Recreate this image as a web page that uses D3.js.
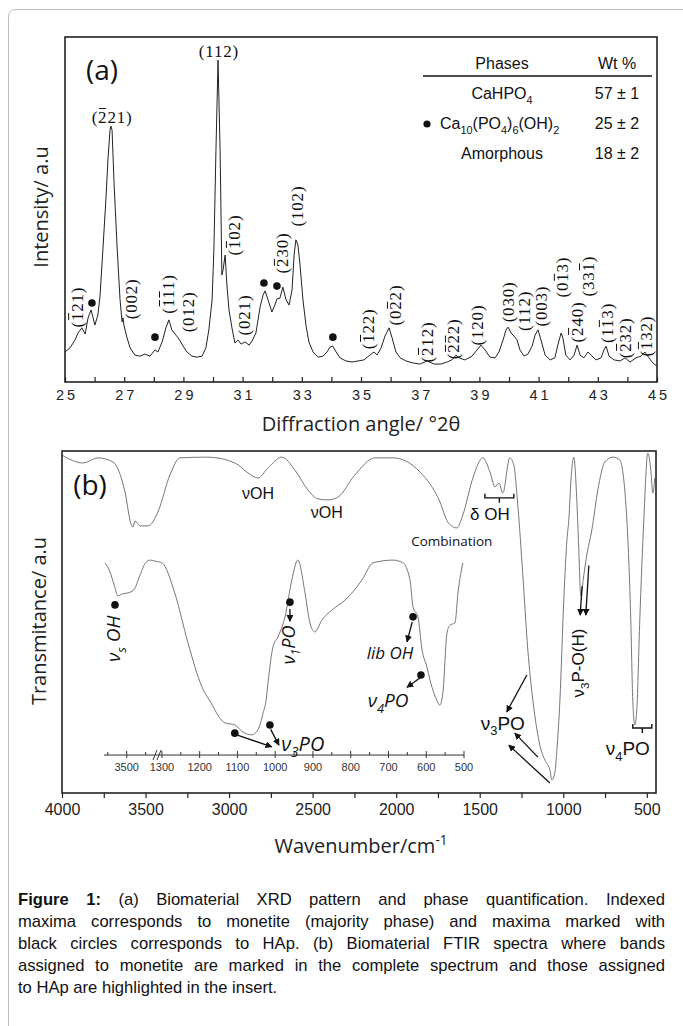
<!DOCTYPE html>
<html>
<head>
<meta charset="utf-8">
<script src="https://cdn.jsdelivr.net/npm/d3@7"></script>
<style>
  body { margin: 0; background: #fff; }
  svg { display: block; }
</style>
</head>
<body>
<svg id="fig" width="683" height="1026"></svg>
<script>
// ---------- data ----------
const xrdAngle = [25.00,25.17,25.34,25.44,25.57,25.68,25.78,25.88,25.95,26.01,26.11,26.18,26.28,26.39,26.45,26.52,26.55,26.59,26.66,26.76,26.86,26.93,26.96,26.99,27.09,27.20,27.36,27.53,27.70,27.87,28.04,28.14,28.28,28.41,28.51,28.61,28.72,28.82,28.89,28.99,29.12,29.29,29.46,29.63,29.76,29.86,29.97,30.03,30.10,30.17,30.24,30.30,30.34,30.41,30.47,30.54,30.64,30.74,30.84,30.95,31.08,31.22,31.32,31.45,31.59,31.69,31.76,31.86,31.99,32.09,32.16,32.26,32.36,32.47,32.57,32.67,32.74,32.80,32.87,32.94,33.04,33.14,33.24,33.38,33.55,33.72,33.85,33.95,34.05,34.16,34.29,34.49,34.70,34.90,35.10,35.30,35.44,35.54,35.68,35.81,35.95,36.05,36.18,36.32,36.52,36.76,36.99,37.23,37.47,37.70,37.91,38.07,38.21,38.31,38.51,38.75,38.92,39.05,39.19,39.36,39.53,39.66,39.80,39.90,39.97,40.07,40.17,40.27,40.37,40.51,40.64,40.78,40.88,40.98,41.08,41.22,41.39,41.55,41.65,41.76,41.82,41.92,42.06,42.20,42.30,42.40,42.53,42.67,42.77,42.94,43.11,43.21,43.28,43.38,43.55,43.75,43.92,44.09,44.29,44.46,44.59,44.73,44.86,45.00];
const xrdIntensity = [8.7,9.9,12.2,14.2,15.7,13.9,18.6,20.9,18.6,16.5,19.4,24.6,38.3,54.2,64.3,73.0,74.2,73.0,57.1,39.1,23.8,17.4,18.6,16.5,13.0,9.9,7.8,7.5,8.1,7.5,9.3,8.7,11.6,15.7,18.0,15.1,13.9,12.8,11.9,10.4,8.7,7.5,7.2,7.5,9.9,15.1,23.8,38.3,67.2,93.3,67.2,31.0,32.5,36.8,28.1,20.9,15.7,11.3,12.2,11.0,11.6,10.7,11.9,14.2,21.7,25.2,26.4,23.8,20.3,22.3,24.1,24.3,27.5,23.8,22.3,26.7,36.8,41.2,39.7,33.9,23.8,16.5,11.6,8.7,7.2,7.5,8.7,10.1,10.4,8.7,7.0,6.1,5.8,6.1,6.4,7.8,8.7,7.8,9.9,13.3,15.7,12.8,8.7,7.0,6.1,5.5,5.2,6.1,5.2,5.2,5.8,6.4,7.8,7.0,6.4,7.5,9.3,10.7,9.3,7.2,7.0,8.7,12.2,15.1,15.9,14.2,13.3,12.2,9.3,7.5,8.1,10.4,13.6,15.1,12.2,7.8,6.4,7.0,10.7,14.2,12.8,7.8,6.4,7.8,10.7,7.8,7.0,8.7,7.8,6.4,7.0,9.3,10.4,7.5,6.4,6.1,7.0,5.8,7.0,7.5,8.7,7.0,5.5,4.6];
const xrdTicks = d3.range(25, 46, 1);

// monetite reflections: [label ("-" = bar over next digit), angle, level, rotated]
const millerLabels = [
  ["(-221)", 26.59, 76.8, false],
  ["(112)", 30.20, 95.7, false],
  ["(-121)", 25.41, 21.7, true],
  ["(002)", 27.26, 24.1, true],
  ["(-1-11)", 28.48, 25.5, true],
  ["(012)", 29.16, 20.3, true],
  ["(-102)", 30.74, 42.6, true],
  ["(021)", 31.08, 19.4, true],
  ["(-230)", 32.36, 37.4, true],
  ["(102)", 32.84, 51.0, true],
  ["(-122)", 35.27, 15.4, true],
  ["(0-22)", 36.18, 22.3, true],
  ["(-212)", 37.23, 11.6, true],
  ["(-2-22)", 38.14, 12.5, true],
  ["(120)", 38.95, 16.5, true],
  ["(030)", 39.97, 23.2, true],
  ["(112)", 40.54, 20.6, true],
  ["(003)", 41.11, 22.0, true],
  ["(0-13)", 41.82, 30.4, true],
  ["(-240)", 42.30, 17.4, true],
  ["(33-1)", 42.67, 30.7, true],
  ["(1-13)", 43.34, 17.1, true],
  ["(-232)", 43.92, 12.8, true],
  ["(-132)", 44.66, 13.3, true]
];
// HAp maxima (black circles)
const hapAngle = [25.91, 28.04, 31.72, 32.16, 34.05];
const hapLevel = [22.9, 13.0, 28.7, 27.8, 13.0];

const phaseNames = ["CaHPO4", "Ca10(PO4)6(OH)2", "Amorphous"];
const phaseWt = ["57 \u00b1 1", "25 \u00b1 2", "18 \u00b1 2"];

const ftirWavenumber = [4000,3874,3785,3695,3623,3587,3575,3563,3533,3485,3426,3354,3294,3127,2965,2887,2827,2768,2684,2606,2528,2468,2409,2349,2247,2127,2020,1858,1738,1691,1637,1601,1541,1481,1439,1409,1385,1362,1320,1296,1272,1242,1212,1182,1140,1110,1080,1068,1050,1038,1020,997,978,966,954,937,919,907,895,877,859,829,793,751,703,662,620,596,584,572,560,542,518,494,476,464,452];
const ftirT = [98.8,96.5,98.0,96.8,88.0,78.7,77.8,79.5,78.1,78.1,82.2,93.0,98.0,98.2,96.5,93.6,92.1,95.0,98.2,94.4,88.6,86.0,85.7,86.5,93.0,98.0,98.0,93.9,85.1,79.2,77.5,81.3,92.1,98.0,93.9,89.5,90.6,87.7,98.0,95.9,84.2,63.7,41.8,27.2,14.0,9.6,6.7,3.8,6.1,12.6,27.2,56.4,74.0,80.4,91.5,98.2,85.7,71.1,57.6,63.7,69.6,76.9,88.6,96.8,98.2,97.4,80.4,50.6,27.2,19.9,24.3,50.6,79.8,99.4,94.4,87.7,92.1];
const ftirTicks = [4000, 3500, 3000, 2500, 2000, 1500, 1000, 500];
const ftirMinor = [3750, 3250, 2750, 2250, 1750, 1250, 750];

// insert spectrum (broken axis: 3560-3420 | 1313-500)
const insetWavenumber = [3557,3544,3533,3523,3512,3497,3481,3465,3449,3438,3425,1300,1266,1231,1194,1168,1152,1133,1107,1085,1062,1046,1032,1024,1019,1006,993,974,956,940,921,908,895,876,850,815,770,741,688,662,643,635,622,611,598,590,572,564,556,545,537,524,516,503];
const insetT = [67.3,64.6,60.8,57.6,58.2,58.5,59.4,63.7,67.5,68.1,67.8,67.3,58.5,43.9,31.0,26.0,22.8,20.5,19.9,17.8,17.0,18.4,23.4,27.2,32.2,42.7,45.6,51.5,62.3,68.1,58.5,49.7,47.1,50.6,53.5,56.4,62.3,67.3,68.1,67.3,62.3,54.4,51.5,41.8,36.8,33.0,27.2,25.7,29.2,46.8,49.1,49.7,58.5,67.3];
const insetTicks = [3500, 1300, 1200, 1100, 1000, 900, 800, 700, 600, 500];
const insetMinor = [3550, 3450, 1250, 1150, 1050, 950, 850, 750, 650, 550];

const captionLines = [
  "Figure 1: (a) Biomaterial XRD pattern and phase quantification. Indexed",
  "maxima corresponds to monetite (majority phase) and maxima marked with",
  "black circles corresponds to HAp. (b) Biomaterial FTIR spectra where bands",
  "assigned to monetite are marked in the complete spectrum and those assigned",
  "to HAp are highlighted in the insert."
];

// ---------- setup ----------
const svg = d3.select("#fig");
const SANS = "'Open Sans', 'DejaVu Sans', sans-serif";
const ARIAL = "'Liberation Sans', Arial, sans-serif";
const SERIF = "'Liberation Serif', 'DejaVu Serif', serif";

svg.append("defs").append("marker")
  .attr("id", "head")
  .attr("viewBox", "0 0 10 10")
  .attr("refX", 9).attr("refY", 5)
  .attr("markerWidth", 7).attr("markerHeight", 7)
  .attr("markerUnits", "userSpaceOnUse")
  .attr("orient", "auto")
  .append("path").attr("d", "M0,0 L10,5 L0,10 z").attr("fill", "#111");

// outer frame of the page
svg.append("path")
  .attr("d", "M683,9.5 H16 Q8.5,9.5 8.5,17 V1026")
  .attr("fill", "none").attr("stroke", "#bdbdbd");

// text with sub/superscripts
function rich(t, parts, size) {
  let shift = 0;
  parts.forEach(([s, k]) => {
    const target = k === "sub" ? size * 0.3 : k === "sup" ? -size * 0.4 : 0;
    t.append("tspan")
      .attr("dy", target - shift)
      .attr("font-size", k ? size * 0.68 : size)
      .text(s);
    shift = target;
  });
  return t;
}

function bracket(g, x1, x2, y) {
  const m = (x1 + x2) / 2;
  g.append("path")
    .attr("d", `M${x1},${y - 4} V${y} H${x2} V${y - 4} M${m},${y} V${y + 5}`)
    .attr("fill", "none").attr("stroke", "#111").attr("stroke-width", 1.4);
}

function arrow(g, x1, y1, x2, y2) {
  g.append("line")
    .attr("x1", x1).attr("y1", y1).attr("x2", x2).attr("y2", y2)
    .attr("stroke", "#111").attr("stroke-width", 1.3)
    .attr("marker-end", "url(#head)");
}

// ---------- panel (a) XRD ----------
const a = { left: 65, top: 37, right: 657, bottom: 382 };
const xA = d3.scaleLinear().domain([25, 45]).range([a.left, a.right]);
const yA = d3.scaleLinear().domain([0, 100]).range([a.bottom, a.top]);
const gA = svg.append("g");

gA.append("path")
  .datum(d3.range(xrdAngle.length))
  .attr("fill", "none").attr("stroke", "#222").attr("stroke-width", 1)
  .attr("d", d3.line().x(i => xA(xrdAngle[i])).y(i => yA(xrdIntensity[i])));

gA.append("rect")
  .attr("x", a.left).attr("y", a.top)
  .attr("width", a.right - a.left).attr("height", a.bottom - a.top)
  .attr("fill", "none").attr("stroke", "#222").attr("stroke-width", 1.6);

gA.append("g")
  .attr("transform", `translate(0,${a.bottom})`)
  .call(d3.axisBottom(xA).tickValues(xrdTicks).tickSize(-5).tickPadding(8)
    .tickFormat(d => d % 2 ? d : ""))
  .call(g => g.select(".domain").remove())
  .call(g => g.selectAll("line").attr("stroke", "#222").attr("stroke-width", 1.2))
  .call(g => g.selectAll("text")
    .attr("font-family", ARIAL).attr("font-size", 14.5)
    .attr("letter-spacing", 3).attr("dx", 1.5).attr("fill", "#222"));

gA.append("text")
  .attr("x", 361).attr("y", 431)
  .attr("text-anchor", "middle")
  .attr("font-family", SANS).attr("font-size", 20).attr("fill", "#222")
  .text("Diffraction angle/ \u00b02\u03b8");

gA.append("text")
  .attr("transform", "translate(48,207) rotate(-90)")
  .attr("text-anchor", "middle")
  .attr("font-family", SANS).attr("font-size", 20).attr("fill", "#222")
  .text("Intensity/ a.u");

gA.append("text")
  .attr("x", 102).attr("y", 80)
  .attr("text-anchor", "middle")
  .attr("font-family", SANS).attr("font-size", 28).attr("fill", "#111")
  .text("(a)");

// reflection labels, bars drawn over the marked digits
millerLabels.forEach(([lab, ang, lev, rot]) => {
  const chars = [], bars = [];
  for (let k = 0; k < lab.length; k++) {
    if (lab[k] === "-") { bars.push(chars.length); continue; }
    chars.push(lab[k]);
  }
  const px = xA(ang), py = yA(lev);
  const g = gA.append("g")
    .attr("transform", rot ? `translate(${px},${py}) rotate(-90)` : `translate(${px},${py})`);
  const t = g.append("text")
    .attr("text-anchor", "middle").attr("dominant-baseline", "central")
    .attr("font-family", SERIF).attr("font-size", 17).attr("letter-spacing", 0.8)
    .attr("fill", "#111")
    .text(chars.join(""));
  const node = t.node();
  bars.forEach(ci => {
    const s = node.getStartPositionOfChar(ci).x;
    const e = node.getEndPositionOfChar(ci).x - 0.8;
    g.append("line")
      .attr("x1", s + 1).attr("x2", e - 0.5)
      .attr("y1", -8.5).attr("y2", -8.5)
      .attr("stroke", "#111").attr("stroke-width", 1);
  });
});

gA.selectAll("circle.hap")
  .data(hapAngle)
  .join("circle")
  .attr("class", "hap")
  .attr("cx", d => xA(d))
  .attr("cy", (d, i) => yA(hapLevel[i]))
  .attr("r", 3.8).attr("fill", "#111");

// phase table
const tab = gA.append("g").attr("font-family", ARIAL).attr("font-size", 16).attr("fill", "#111");
tab.append("text").attr("x", 502).attr("y", 69).attr("text-anchor", "middle").text("Phases");
tab.append("text").attr("x", 617).attr("y", 69).attr("text-anchor", "middle").text("Wt %");
tab.append("line").attr("x1", 423).attr("x2", 652).attr("y1", 76).attr("y2", 76)
  .attr("stroke", "#111").attr("stroke-width", 1.5);
const rowY = [99, 129, 159];
rich(tab.append("text").attr("x", 502).attr("y", rowY[0]).attr("text-anchor", "middle"),
  [["CaHPO", ""], ["4", "sub"]], 16);
rich(tab.append("text").attr("x", 440).attr("y", rowY[1]),
  [["Ca", ""], ["10", "sub"], ["(PO", ""], ["4", "sub"], [")", ""], ["6", "sub"], ["(OH)", ""], ["2", "sub"]], 16);
tab.append("circle").attr("cx", 427).attr("cy", rowY[1] - 5).attr("r", 3.6).attr("fill", "#111");
tab.append("text").attr("x", 502).attr("y", rowY[2]).attr("text-anchor", "middle").text(phaseNames[2]);
phaseWt.forEach((w, i) => {
  tab.append("text").attr("x", 617).attr("y", rowY[i]).attr("text-anchor", "middle").text(w);
});

// ---------- panel (b) FTIR ----------
const b = { left: 62, top: 451, right: 656, bottom: 793 };
const xB = d3.scaleLinear().domain([4000, 445]).range([b.left, b.right]);
const yB = d3.scaleLinear().domain([0, 100]).range([b.bottom, b.top]);
const gB = svg.append("g");

gB.append("path")
  .datum(d3.range(ftirWavenumber.length))
  .attr("fill", "none").attr("stroke", "#777").attr("stroke-width", 1)
  .attr("d", d3.line().curve(d3.curveMonotoneX)
    .x(i => xB(ftirWavenumber[i])).y(i => yB(ftirT[i])));

gB.append("rect")
  .attr("x", b.left).attr("y", b.top)
  .attr("width", b.right - b.left).attr("height", b.bottom - b.top)
  .attr("fill", "none").attr("stroke", "#222").attr("stroke-width", 1.6);

gB.append("g")
  .attr("transform", `translate(0,${b.bottom})`)
  .call(d3.axisBottom(xB).tickValues(ftirTicks.concat(ftirMinor)).tickSize(5).tickPadding(6)
    .tickFormat(d => ftirTicks.includes(d) ? d : ""))
  .call(g => g.select(".domain").remove())
  .call(g => g.selectAll("line").attr("stroke", "#222").attr("stroke-width", 1.2))
  .call(g => g.selectAll("text")
    .attr("font-family", ARIAL).attr("font-size", 16).attr("fill", "#222"));

rich(gB.append("text")
  .attr("x", 361).attr("y", 853)
  .attr("text-anchor", "middle")
  .attr("font-family", SANS).attr("fill", "#222"),
  [["Wavenumber/cm", ""], ["-1", "sup"]], 20);

gB.append("text")
  .attr("transform", "translate(46,621) rotate(-90)")
  .attr("text-anchor", "middle")
  .attr("font-family", SANS).attr("font-size", 20).attr("fill", "#222")
  .text("Transmitance/ a.u");

gB.append("text")
  .attr("x", 90).attr("y", 495)
  .attr("text-anchor", "middle")
  .attr("font-family", SANS).attr("font-size", 28).attr("fill", "#111")
  .text("(b)");

// monetite band annotations
const ann = gB.append("g").attr("font-family", ARIAL).attr("fill", "#111");
ann.append("text").attr("x", xB(2827)).attr("y", yB(87.7)).attr("text-anchor", "middle")
  .attr("dominant-baseline", "central").attr("font-size", 16).text("\u03bdOH");
ann.append("text").attr("x", xB(2415)).attr("y", yB(81.9)).attr("text-anchor", "middle")
  .attr("dominant-baseline", "central").attr("font-size", 16).text("\u03bdOH");
ann.append("text").attr("x", xB(1439)).attr("y", yB(81.3)).attr("text-anchor", "middle")
  .attr("dominant-baseline", "central").attr("font-size", 17).text("\u03b4 OH");
bracket(ann, xB(1469), xB(1296), yB(86.3));
ann.append("text").attr("x", xB(1667)).attr("y", yB(73.7)).attr("text-anchor", "middle")
  .attr("dominant-baseline", "central").attr("font-family", SANS).attr("font-size", 13.5)
  .text("Combination");

rich(ann.append("text").attr("x", xB(1362)).attr("y", yB(18.5)).attr("text-anchor", "middle"),
  [["\u03bd", ""], ["3", "sub"], ["PO", ""]], 19);
arrow(ann, xB(1218), yB(34.5), xB(1338), yB(23.7));
arrow(ann, xB(1152), yB(10.5), xB(1290), yB(17.5));
arrow(ann, xB(1080), yB(2.9), xB(1326), yB(14.0));

rich(ann.append("text").attr("x", xB(614)).attr("y", yB(11.0)).attr("text-anchor", "middle"),
  [["\u03bd", ""], ["4", "sub"], ["PO", ""]], 19);
bracket(ann, xB(584), xB(470), yB(19.0));

arrow(ann, xB(847), yB(66.5), xB(865), yB(52.0));
arrow(ann, xB(887), yB(60.5), xB(899), yB(52.0));
rich(ann.append("text")
  .attr("transform", `translate(${xB(877)},${yB(38.0)}) rotate(-90)`)
  .attr("text-anchor", "middle").attr("dy", 6),
  [["\u03bd", ""], ["3", "sub"], ["P-O(H)", ""]], 17);

// ---------- insert ----------
const leftSeg = d3.scaleLinear().domain([3560, 3420]).range([104, 157]);
const rightSeg = d3.scaleLinear().domain([1313, 500]).range([157, 464]);
const xI = wn => wn > 2000 ? leftSeg(wn) : rightSeg(wn);
const insetAxisT = 11.1;
const gI = svg.append("g");

gI.append("path")
  .datum(d3.range(insetWavenumber.length))
  .attr("fill", "none").attr("stroke", "#777").attr("stroke-width", 1)
  .attr("d", d3.line().curve(d3.curveMonotoneX)
    .x(i => xI(insetWavenumber[i])).y(i => yB(insetT[i])));

const iy = yB(insetAxisT);
gI.append("line").attr("x1", 104).attr("x2", 464).attr("y1", iy).attr("y2", iy)
  .attr("stroke", "#333").attr("stroke-width", 1);
gI.selectAll("line.maj").data(insetTicks).join("line").attr("class", "maj")
  .attr("x1", d => xI(d)).attr("x2", d => xI(d)).attr("y1", iy - 4).attr("y2", iy + 3)
  .attr("stroke", "#333");
gI.selectAll("line.min").data(insetMinor).join("line").attr("class", "min")
  .attr("x1", d => xI(d)).attr("x2", d => xI(d)).attr("y1", iy - 3).attr("y2", iy)
  .attr("stroke", "#333");
gI.selectAll("text.tk").data(insetTicks).join("text").attr("class", "tk")
  .attr("x", d => xI(d)).attr("y", iy + 16)
  .attr("text-anchor", "middle")
  .attr("font-family", ARIAL).attr("font-size", 11).attr("fill", "#333")
  .text(d => d);
// axis break marks
[155, 159].forEach(x => {
  gI.append("line").attr("x1", x - 2).attr("x2", x + 2).attr("y1", iy + 5).attr("y2", iy - 5)
    .attr("stroke", "#333").attr("stroke-width", 1);
});

// HAp band annotations in the insert
const ia = gI.append("g").attr("font-family", SANS).attr("font-style", "italic").attr("fill", "#111");
function dot(wn, t) {
  ia.append("circle").attr("cx", xI(wn)).attr("cy", yB(t)).attr("r", 3.8).attr("fill", "#111");
}
function iarrow(wn1, t1, wn2, t2) {
  arrow(ia, xI(wn1), yB(t1), xI(wn2), yB(t2));
}

dot(3531, 55.0);
rich(ia.append("text")
  .attr("transform", `translate(${xI(3518)},${yB(38.3)}) rotate(-90)`)
  .attr("dy", 6),
  [["\u03bd", ""], ["s", "sub"], [" OH", ""]], 19);

dot(961, 55.8);
iarrow(961, 53.8, 961, 50.2);
rich(ia.append("text")
  .attr("transform", `translate(${xI(948)},${yB(43.3)}) rotate(-90)`)
  .attr("text-anchor", "middle").attr("dy", 6),
  [["\u03bd", ""], ["1", "sub"], ["PO", ""]], 18);

dot(635, 51.5);
iarrow(637, 50.0, 651, 44.2);
ia.append("text").attr("x", xI(696)).attr("y", yB(41.2)).attr("text-anchor", "middle")
  .attr("dominant-baseline", "central").attr("font-size", 17).text("lib OH");

dot(614, 34.5);
iarrow(617, 33.6, 651, 30.9);
rich(ia.append("text").attr("x", xI(701)).attr("y", yB(25.2)).attr("text-anchor", "middle"),
  [["\u03bd", ""], ["4", "sub"], ["PO", ""]], 19);

dot(1107, 17.5);
dot(1014, 19.9);
iarrow(1102, 17.0, 1009, 13.5);
iarrow(1012, 18.6, 990, 14.0);
rich(ia.append("text").attr("x", xI(927)).attr("y", yB(12.2)).attr("text-anchor", "middle"),
  [["\u03bd", ""], ["3", "sub"], ["PO", ""]], 20);

// ---------- caption (justified) ----------
const capLeft = 18, capRight = 665, capTop = 899, capStep = 22;
captionLines.forEach((line, li) => {
  const words = line.split(" ");
  const nodes = words.map((w, wi) => svg.append("text")
    .attr("y", capTop + li * capStep)
    .attr("dominant-baseline", "central")
    .attr("font-family", ARIAL).attr("font-size", 16.6).attr("fill", "#111")
    .attr("font-weight", li === 0 && wi < 2 ? "bold" : null)
    .text(w));
  const widths = nodes.map(n => n.node().getComputedTextLength());
  const last = li === captionLines.length - 1;
  const gap = last ? 4.6 : (capRight - capLeft - d3.sum(widths)) / (words.length - 1);
  let x = capLeft;
  nodes.forEach((n, i) => { n.attr("x", x); x += widths[i] + gap; });
});
</script>
</body>
</html>
